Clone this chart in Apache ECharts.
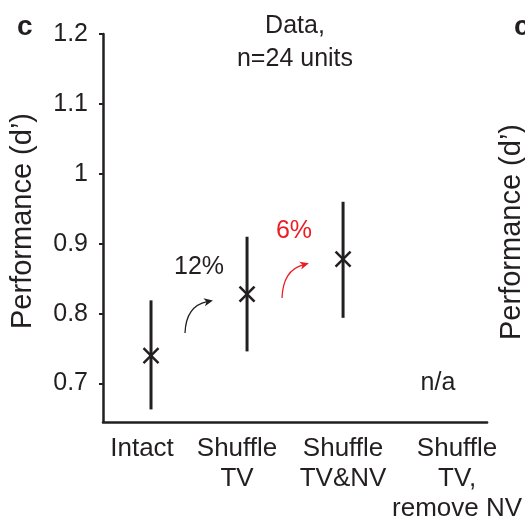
<!DOCTYPE html>
<html>
<head>
<meta charset="utf-8">
<script src="https://cdn.jsdelivr.net/npm/echarts@6/dist/echarts.min.js"></script>
<style>html,body{margin:0;padding:0;background:#fff}#c{width:525px;height:527px}</style>
</head>
<body>
<div id="c"></div>
<script>
var categories = ['Intact', 'Shuffle\nTV', 'Shuffle\nTV&NV', 'Shuffle\nTV,\nremove NV'];
var means = [0.740, 0.828, 0.878, null];
var lower = [0.663, 0.746, 0.794, null];
var upper = [0.819, 0.910, 0.960, null];
var yTicks = [0.7, 0.8, 0.9, 1.0, 1.1, 1.2];

var INK = '#231f20';
var FONT = '"Liberation Sans", Arial, Helvetica, sans-serif';

// horizontal nudges of the category labels (as in the reference layout)
var labelPads = [[0, 18, 0, 0], [0, 20, 0, 0], [0, 0, 0, 0], [0, 0, 0, 36]];

var data = [];
for (var i = 0; i < categories.length; i++) {
  if (means[i] != null) data.push([i, means[i], lower[i], upper[i]]);
}
var catData = categories.map(function (c, i) {
  return {value: c, textStyle: {padding: labelPads[i]}};
});

var chart = echarts.init(document.getElementById('c'), null, {renderer: 'canvas'});

function arrow(x1, y1, cx, cy, x2, y2, color) {
  var dx = x2 - cx, dy = y2 - cy, L = Math.sqrt(dx*dx + dy*dy);
  var ux = dx / L, uy = dy / L, px = -uy, py = ux;
  var len = 9, hw = 4;
  var tipx = x2 + ux * 3, tipy = y2 + uy * 3;
  var bx = tipx - ux * len, by = tipy - uy * len;
  return [
    {type: 'bezierCurve', shape: {x1: x1, y1: y1, x2: x2 - ux*3, y2: y2 - uy*3, cpx1: cx, cpy1: cy},
     style: {stroke: color, lineWidth: 1.3, fill: null}},
    {type: 'polygon', shape: {points: [[tipx, tipy], [bx + px*hw, by + py*hw], [bx + ux*2.5, by + uy*2.5], [bx - px*hw, by - py*hw]]},
     style: {fill: color}}
  ];
}

var graphics = [
  {type: 'text', left: 17, top: 13, style: {text: 'c', font: 'bold 28px ' + FONT, fill: INK}},
  {type: 'text', x: 514, y: 13, style: {text: 'c', font: 'bold 28px ' + FONT, fill: INK}},
  {type: 'text', x: 295, y: 10, style: {text: 'Data,\nn=24 units', font: '25px ' + FONT, fill: INK, align: 'center', verticalAlign: 'top', lineHeight: 33}},
  {type: 'text', x: 199, y: 267, style: {text: '12%', font: '25px ' + FONT, fill: INK, align: 'center', verticalAlign: 'middle'}},
  {type: 'text', x: 294, y: 231, style: {text: '6%', font: '25px ' + FONT, fill: '#ed1c24', align: 'center', verticalAlign: 'middle'}},
  {type: 'text', x: 438, y: 383, style: {text: 'n/a', font: '25px ' + FONT, fill: INK, align: 'center', verticalAlign: 'middle'}},
  {type: 'text', x: 512, y: 232, rotation: Math.PI / 2, style: {text: 'Performance (d\u2019)', font: '29px ' + FONT, fill: INK, align: 'center', verticalAlign: 'middle'}}
].concat(arrow(185, 333, 186, 306, 210, 301, INK)).concat(arrow(282, 298, 283, 270, 306, 264, '#ed1c24'));

chart.setOption({
  animation: false,
  backgroundColor: '#fff',
  grid: {left: 103, right: 37, top: 34, bottom: 105, containLabel: false},
  xAxis: {
    type: 'category',
    data: catData,
    boundaryGap: true,
    axisLine: {lineStyle: {color: INK, width: 2.5}},
    axisTick: {alignWithLabel: true, length: 4, lineStyle: {color: INK, width: 2}},
    axisLabel: {interval: 0, color: INK, fontSize: 26, fontFamily: FONT, lineHeight: 30, margin: 12},
    splitLine: {show: false}
  },
  yAxis: {
    type: 'value',
    min: 0.645,
    max: 1.2,
    name: 'Performance (d\u2019)',
    nameLocation: 'middle',
    nameRotate: 90,
    nameGap: 66,
    nameTextStyle: {color: INK, fontSize: 29, fontFamily: FONT, padding: [0, 0, 0, 14]},
    axisLine: {show: true, lineStyle: {color: INK, width: 2.5}},
    axisTick: {show: true, length: 4, customValues: yTicks, lineStyle: {color: INK, width: 2}},
    axisLabel: {color: INK, fontSize: 25, fontFamily: FONT, margin: 15, customValues: yTicks,
      formatter: function (v) { return String(Math.round(v * 10) / 10); }},
    splitLine: {show: false}
  },
  series: [{
    type: 'custom',
    data: data,
    renderItem: function (params, api) {
      var x = api.value(0);
      var m = api.coord([x, api.value(1)]);
      var lo = api.coord([x, api.value(2)]);
      var hi = api.coord([x, api.value(3)]);
      var s = 7.5;
      return {type: 'group', children: [
        {type: 'line', shape: {x1: lo[0], y1: lo[1], x2: hi[0], y2: hi[1]}, style: {stroke: INK, lineWidth: 3}},
        {type: 'line', shape: {x1: m[0]-s, y1: m[1]-s, x2: m[0]+s, y2: m[1]+s}, style: {stroke: INK, lineWidth: 2.5}},
        {type: 'line', shape: {x1: m[0]-s, y1: m[1]+s, x2: m[0]+s, y2: m[1]-s}, style: {stroke: INK, lineWidth: 2.5}}
      ]};
    }
  }],
  graphic: graphics
});
</script>
</body>
</html>
